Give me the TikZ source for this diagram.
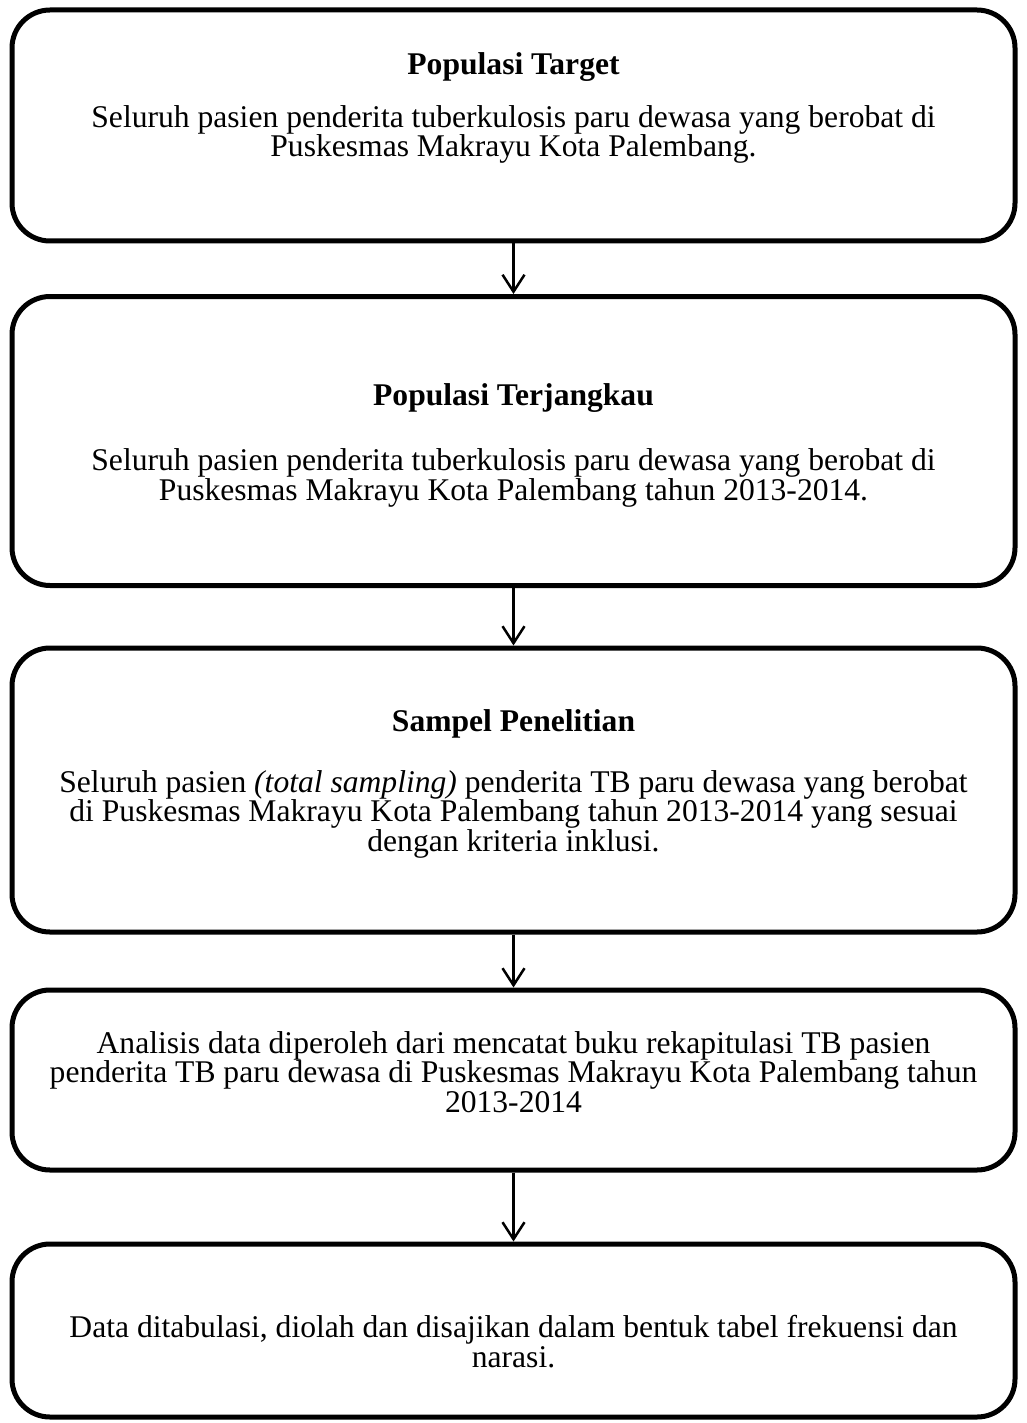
\documentclass[tikz,border=0pt]{standalone}
\usepackage{fontspec}
\setmainfont{Liberation Serif}
\usetikzlibrary{arrows.meta,positioning}
\newcommand{\flowfont}{\fontsize{31.6}{29.5}\selectfont}

\begin{document}
\begin{tikzpicture}[x=1pt, y=-1pt,
    flowbox/.style={rectangle, draw=black, line width=5pt, rounded corners=38pt, minimum width=1003pt, inner sep=0pt},
    boxtitle/.style={anchor=base, font=\flowfont\bfseries},
    boxtext/.style={anchor=base, align=center, font=\flowfont},
    flowarrow/.style={-{Straight Barb[length=17pt,width=22pt]}, line width=2.5pt}
]
    \useasboundingbox (0,0) rectangle (1027,1423);

    % Boxes
    \node[flowbox, minimum height=231pt] (target) at (513.5,125.5) {};
    \node[flowbox, minimum height=289pt] (jangkau) at (513.5,441) {};
    \node[flowbox, minimum height=284pt] (sampel) at (513.5,790) {};
    \node[flowbox, minimum height=180pt] (analisis) at (513.5,1080) {};
    \node[flowbox, minimum height=173pt] (sajian) at (513.5,1330.5) {};

    % Texts (base = last line)
    \node[boxtitle] (targettitle) at (513.5,75) {Populasi Target};
    \node[boxtext] (targettext) at (513.5,157) {Seluruh pasien penderita tuberkulosis paru dewasa yang berobat di\\Puskesmas Makrayu Kota Palembang.};

    \node[boxtitle] (jangkautitle) at (513.5,405) {Populasi Terjangkau};
    \node[boxtext] (jangkautext) at (513.5,500) {Seluruh pasien penderita tuberkulosis paru dewasa yang berobat di\\Puskesmas Makrayu Kota Palembang tahun 2013-2014.};

    \node[boxtitle] (sampeltitle) at (513.5,731) {Sampel Penelitian};
    \node[boxtext] (sampeltext) at (513.5,851) {Seluruh pasien \textit{(total sampling)} penderita TB paru dewasa yang berobat\\di Puskesmas Makrayu Kota Palembang tahun 2013-2014 yang sesuai\\dengan kriteria inklusi.};

    \node[boxtext] (analisistext) at (513.5,1112) {Analisis data diperoleh dari mencatat buku rekapitulasi TB pasien\\penderita TB paru dewasa di Puskesmas Makrayu Kota Palembang tahun\\2013-2014};

    \node[boxtext] (sajiantext) at (513.5,1367) {Data ditabulasi, diolah dan disajikan dalam bentuk tabel frekuensi dan\\narasi.};

    % Arrows
    \draw[flowarrow] (target.south) -- (jangkau.north);
    \draw[flowarrow] (jangkau.south) -- (sampel.north);
    \draw[flowarrow] (sampel.south) -- (analisis.north);
    \draw[flowarrow] (analisis.south) -- (sajian.north);
\end{tikzpicture}
\end{document}
